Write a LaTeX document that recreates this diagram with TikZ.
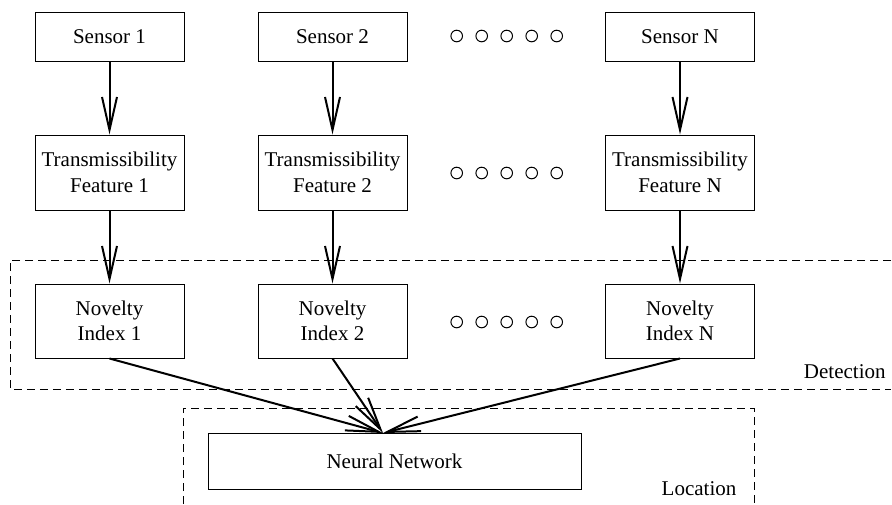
\documentclass[tikz,border=0pt]{standalone}
\usepackage{fontspec}
\setmainfont{Liberation Serif}
\usetikzlibrary{arrows.meta}
\begin{document}
\begin{tikzpicture}[x=0.5pt,y=-0.5pt,
  font=\fontsize{10.5}{12.8}\selectfont,
  box/.style={draw,line width=0.5pt,minimum width=74.5pt,inner sep=0pt,align=center},
  sensorbox/.style={box,minimum height=24.5pt},
  featbox/.style={box,minimum height=37.5pt},
  nnbox/.style={box,minimum width=186.5pt,minimum height=28pt},
  flow/.style={line width=1pt,-{Straight Barb[length=16.5pt,width=7.5pt,line width=1pt]}},
  region/.style={line width=0.5pt,dash pattern=on 4pt off 2.5pt},
  dot/.style={line width=0.5pt}]
\useasboundingbox (0,0) rectangle (892,504);
% dashed regions
\draw[region] (891,260) -- (10,260) -- (10,389) -- (891,389);
\draw[region] (183,504) -- (183,408) -- (754,408) -- (754,504);
% nodes
\node[sensorbox] (s1) at (109.5,36.5) {Sensor 1};
\node[sensorbox] (s2) at (332.5,36.5) {Sensor 2};
\node[sensorbox] (sn) at (680,36.5) {Sensor N};
\node[featbox] (t1) at (109.5,172.5) {Transmissibility\\Feature 1};
\node[featbox] (t2) at (332.5,172.5) {Transmissibility\\Feature 2};
\node[featbox] (tn) at (680,172.5) {Transmissibility\\Feature N};
\node[featbox,minimum height=37pt] (n1) at (109.5,321) {Novelty\\Index 1};
\node[featbox,minimum height=37pt] (n2) at (332.5,321) {Novelty\\Index 2};
\node[featbox,minimum height=37pt] (nn) at (680,321) {Novelty\\Index N};
\node[nnbox] (net) at (394.5,461) {Neural Network};
\coordinate (hub) at (383,433);
\node[anchor=east,inner sep=0pt] (det) at (886,372) {Detection};
\node[inner sep=0pt] (loc) at (699,489) {Location};
% dots
\foreach \y in {36,173,322}{
  \foreach \x in {456.7,481.7,506.7,531.7,556.7}{
    \draw[dot] (\x,\y) circle[radius=2.9pt];
  }
}
% connectors
\draw[flow] (s1) -- (t1);
\draw[flow] (s2) -- (t2);
\draw[flow] (sn) -- (tn);
\draw[flow] (t1) -- (n1);
\draw[flow] (t2) -- (n2);
\draw[flow] (tn) -- (nn);
\draw[flow] (n1.south) -- (hub);
\draw[flow] (n2.south) -- (hub);
\draw[flow] (nn.south) -- (hub);
\end{tikzpicture}
\end{document}
